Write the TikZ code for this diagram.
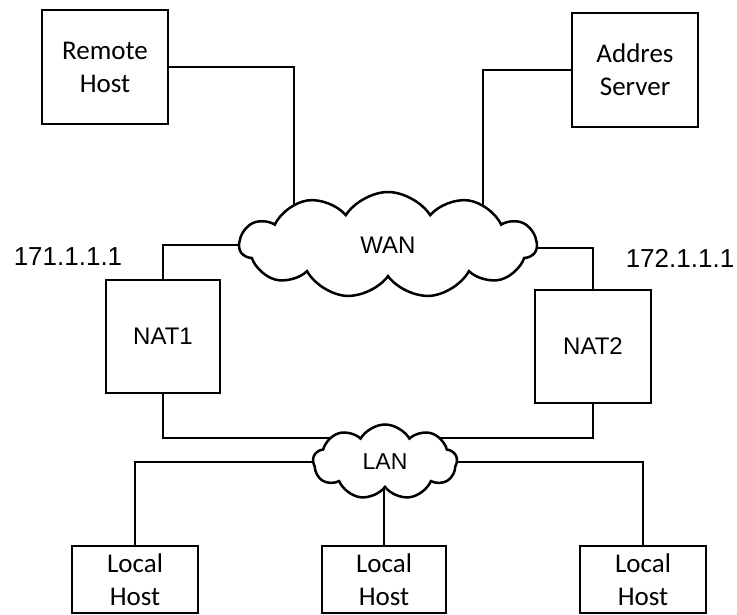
\documentclass[tikz,border=0pt]{standalone}
\usepackage{fontspec}
\setmainfont{Carlito}
\newfontfamily\arialfont{Liberation Sans}
\usetikzlibrary{shapes.symbols,backgrounds,calc}
\begin{document}
\begin{tikzpicture}[x=1pt,y=-1pt,
  hostbox/.style={draw,line width=2.5pt,align=center,inner sep=0pt,
    font=\fontsize{27}{33}\selectfont},
  natbox/.style={draw,line width=2.5pt,align=center,inner sep=0pt,
    font=\arialfont\fontsize{24}{29}\selectfont},
  netcloud/.style={cloud,draw,fill=white,line width=2.5pt,inner sep=0pt},
  wire/.style={line width=2.5pt},
  iplabel/.style={inner sep=0pt,font=\arialfont\fontsize{26}{31}\selectfont}]
\useasboundingbox (0,0) rectangle (737,615);
\node[hostbox,minimum width=126pt,minimum height=114pt] (RH) at (105,67) {Remote\\Host};
\node[hostbox,minimum width=126pt,minimum height=114pt] (AS) at (635,70) {Addres\\Server};
\node[natbox,minimum width=114pt,minimum height=113pt] (N1) at (163,336.5) {NAT1};
\node[natbox,minimum width=116pt,minimum height=113pt] (N2) at (593,346.5) {NAT2};
\node[hostbox,minimum width=126pt,minimum height=67pt] (LH1) at (135,579.5) {Local\\Host};
\node[hostbox,minimum width=124pt,minimum height=67pt] (LH2) at (384,579.5) {Local\\Host};
\node[hostbox,minimum width=126pt,minimum height=67pt] (LH3) at (643,579.5) {Local\\Host};
\node[netcloud,cloud puffs=11,cloud puff arc=115,aspect=2.8,
  minimum width=297pt,minimum height=106pt,
  font=\arialfont\fontsize{24}{29}\selectfont] (WAN) at (388,245) {WAN};
\node[netcloud,cloud puffs=9,cloud puff arc=120,aspect=1.9,
  minimum width=144pt,minimum height=75pt,
  font=\arialfont\fontsize{23}{28}\selectfont] (LAN) at (385,462) {LAN};
\node[iplabel] (IP1) at (68,257) {171.1.1.1};
\node[iplabel] (IP2) at (680,258) {172.1.1.1};
\begin{scope}[on background layer]
\draw[wire] (RH.east) -| ($(WAN.center)+(-94,0)$);
\draw[wire] (AS.west) -| ($(WAN.center)+(95,0)$);
\draw[wire] (N1.north) |- (WAN.center);
\draw[wire] (N2.north) |- ($(WAN.center)+(0,3)$);
\draw[wire] (N1.south) |- ($(LAN.center)+(0,-24)$);
\draw[wire] (N2.south) |- ($(LAN.center)+(0,-24)$);
\draw[wire] (LH1.north) |- (LAN.center);
\draw[wire] (LH3.north) |- (LAN.center);
\draw[wire] (LH2.north) -- (LH2.north |- LAN.center);
\end{scope}
\end{tikzpicture}
\end{document}
